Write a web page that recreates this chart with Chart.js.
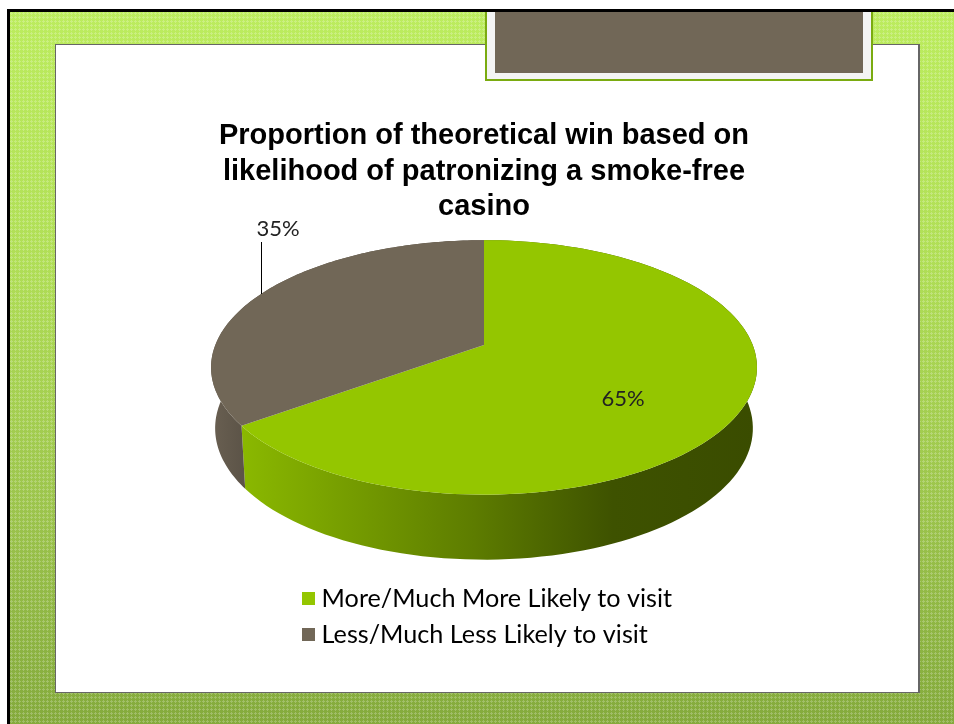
<!DOCTYPE html>
<html>
<head>
<meta charset="utf-8">
<title>Proportion of theoretical win</title>
<script src="https://cdn.jsdelivr.net/npm/chart.js@4/dist/chart.umd.min.js"></script>
<style>
html, body { margin: 0; padding: 0; background: #fff; overflow: hidden; }
#page { position: relative; width: 954px; height: 724px; overflow: hidden; }
#slide {
    position: absolute; left: 7px; top: 9px; right: 0; bottom: 0;
    border-left: 3px solid #000; border-top: 3px solid #000;
    background-color: #a5cf50;
    background-image:
        radial-gradient(circle at 1.5px 1.5px, rgba(255,255,255,.22) 1px, rgba(255,255,255,0) 1.4px),
        linear-gradient(180deg, #bcec5e 0%, #b0de56 35%, #9cc44c 70%, #84aa3c 100%);
    background-size: 4px 4px, 100% 100%;
}
#panel {
    position: absolute; left: 55px; top: 44px; width: 862px; height: 647px;
    background: #fff; border: 1px solid #666;
    border-right-width: 2px;
}
#tab {
    position: absolute; left: 485px; top: 9px; width: 384px; height: 70px;
    background: #f4f4f4; border: 1px solid #7aab10; border-width: 0 2px 2px 2px;
}
#tab div { position: absolute; left: 8px; right: 8px; top: 0; height: 64px; background: #716757; }
#topline { position: absolute; left: 485px; top: 9px; width: 388px; height: 3px; background: #000; }
canvas { position: absolute; left: 0; top: 0; }
</style>
</head>
<body>
<div id="page">
    <div id="slide"></div>
    <div id="panel"></div>
    <div id="tab"><div></div></div>
    <div id="topline"></div>
    <canvas id="winChart" width="954" height="724"></canvas>
</div>
<script>
var titleLines = ['Proportion of theoretical win based on', 'likelihood of patronizing a smoke-free', 'casino'];
var categories = ['More/Much More Likely to visit', 'Less/Much Less Likely to visit'];
var shares = [65, 35];
var topColors = ['#94c600', '#716757'];
var wallStops = [
    [[0, '#8ab800'], [0.45, '#5d7c00'], [0.72, '#3e5200'], [1, '#3a4c00']],
    [[0, '#6a6052'], [1, '#5a5246']]
];

// the pie is tilted in perspective, so each rim point of the library's arc goes through this
function project(arc, angle, drop) {
    var v = Math.sin(angle);
    var w = 1 - 0.176 * v;
    return {
        x: arc.x + arc.outerRadius * 2.067 * Math.cos(angle) / w * (drop ? 0.985 : 1),
        y: arc.y + arc.outerRadius * 0.9485 * v / w + (drop ? 60 + 5 * v : 0)
    };
}

function rimPoints(arc, drop) {
    var pts = [];
    var n = 120;
    for (var i = 0; i <= n; i++) {
        pts.push(project(arc, arc.startAngle + (arc.endAngle - arc.startAngle) * i / n, drop));
    }
    return pts;
}

var tiltedPie = {
    id: 'tiltedPie',
    afterLayout: function(chart) {
        var lg = chart.legend;
        lg.left = 297.2; lg.right = 700; lg.width = 402.8;
        lg.top = 575.2; lg.bottom = 680; lg.height = 104.8;
    },
    beforeDatasetDraw: function() {
        return false;
    },
    afterDatasetsDraw: function(chart) {
        var ctx = chart.ctx;
        var arcs = chart.getDatasetMeta(0).data;
        ctx.save();

        // side walls first
        arcs.forEach(function(arc, i) {
            var top = rimPoints(arc, false);
            var low = rimPoints(arc, true).reverse();
            var grad = i === 0 ? ctx.createLinearGradient(243, 0, 757, 0) : ctx.createLinearGradient(210, 0, 248, 0);
            wallStops[i].forEach(function(s) { grad.addColorStop(s[0], s[1]); });
            ctx.fillStyle = grad;
            ctx.beginPath();
            top.concat(low).forEach(function(p, k) {
                if (k === 0) ctx.moveTo(p.x, p.y); else ctx.lineTo(p.x, p.y);
            });
            ctx.closePath();
            ctx.fill();
        });

        // then the top faces
        arcs.forEach(function(arc, i) {
            ctx.fillStyle = topColors[i];
            ctx.beginPath();
            ctx.moveTo(arc.x, arc.y);
            rimPoints(arc, false).forEach(function(p) { ctx.lineTo(p.x, p.y); });
            ctx.closePath();
            ctx.fill();
        });

        // value labels and the leader line of the small slice
        ctx.font = '22px Lato';
        ctx.fillStyle = '#222';
        ctx.textAlign = 'center';
        ctx.textBaseline = 'middle';
        ctx.fillText(shares[0] + '%', 623, 399);
        ctx.fillText(shares[1] + '%', 278, 229);
        ctx.strokeStyle = '#000';
        ctx.lineWidth = 1;
        ctx.beginPath();
        ctx.moveTo(261.5, 242);
        ctx.lineTo(261.5, 294);
        ctx.stroke();
        ctx.restore();
    }
};

var winChart = new Chart(document.getElementById('winChart').getContext('2d'), {
    type: 'pie',
    data: {
        labels: categories,
        datasets: [{
            data: shares,
            backgroundColor: topColors,
            borderWidth: 0
        }]
    },
    plugins: [tiltedPie],
    options: {
        responsive: false,
        animation: false,
        layout: { padding: { left: 14, top: 103, bottom: 249, right: 0 } },
        plugins: {
            tooltip: { enabled: false },
            title: {
                display: true,
                text: titleLines,
                color: '#000',
                font: { family: 'Liberation Sans', size: 29, weight: 'bold', lineHeight: 1.23 },
                padding: { top: 15, bottom: -10 }
            },
            legend: {
                display: true,
                position: 'chartArea',
                align: 'start',
                labels: {
                    boxWidth: 1,
                    boxHeight: 1,
                    padding: 10.8,
                    color: '#222',
                    font: { family: 'Lato', size: 25.2 },
                    // thick outline round a tiny box keeps the swatch close to its text
                    generateLabels: function(chart) {
                        return categories.map(function(name, i) {
                            return {
                                text: name,
                                fillStyle: topColors[i],
                                strokeStyle: topColors[i],
                                lineWidth: 12,
                                index: i
                            };
                        });
                    }
                }
            }
        }
    }
});
</script>
</body>
</html>
